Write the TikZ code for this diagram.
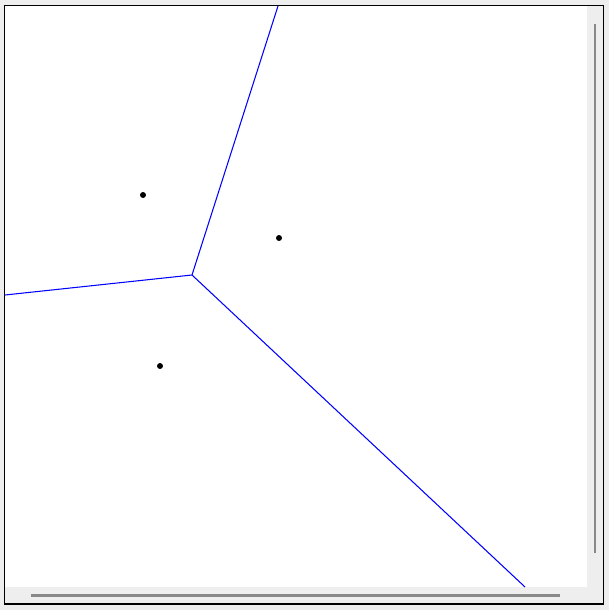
\documentclass[tikz,border=0pt]{standalone}
\usetikzlibrary{positioning}
\definecolor{panelgray}{HTML}{EEEEEE}
\definecolor{bargray}{HTML}{888888}
\tikzset{
  site/.style={circle, fill=black, inner sep=0pt, minimum size=1.7pt},
  edge/.style={blue, line width=0.3pt},
  bar/.style={bargray, line width=0.6pt}
}
\begin{document}
\begin{tikzpicture}[x=0.01cm, y=-0.01cm]
    \useasboundingbox (0,0) rectangle (609,610);
    % window background and plot area
    \fill[panelgray] (0,0) rectangle (609,610);
    \fill[white] (5,6) rectangle (587,587);
    \draw[black, line width=0.45pt] (4.5,5.5) rectangle (603.5,604);
    % scroll bars
    \coordinate (vbartop) at (595,24);
    \coordinate (vbarbot) at (595,553);
    \coordinate (hbarleft) at (31,595.5);
    \coordinate (hbarright) at (560,595.5);
    \draw[bar] (vbartop) -- (vbarbot);
    \draw[bar] (hbarleft) -- (hbarright);
    % sites
    \node[site] (s1) at (143,195) {};
    \node[site] (s2) at (279,238) {};
    \node[site] (s3) at (160,366) {};
    % voronoi edges
    \coordinate (v) at (192,275);
    \coordinate (etop) at (278,6);
    \coordinate (eleft) at (5,295);
    \coordinate (ebot) at (525,587);
    \draw[edge] (v) -- (etop);
    \draw[edge] (v) -- (eleft);
    \draw[edge] (v) -- (ebot);
\end{tikzpicture}
\end{document}
